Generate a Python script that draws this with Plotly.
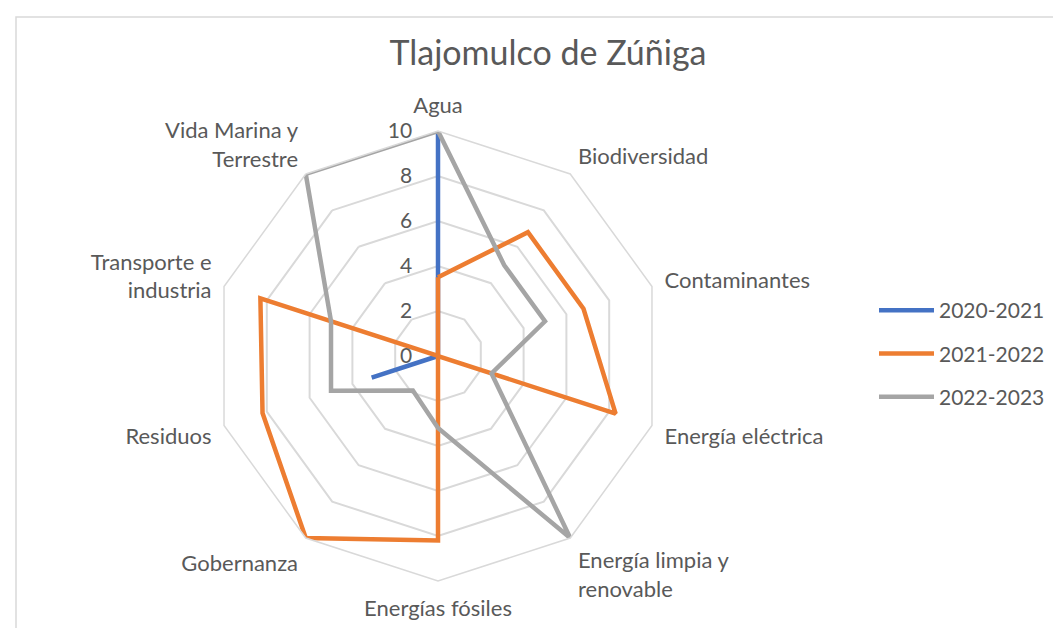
import plotly.graph_objs as go

categorias = ['Agua', 'Biodiversidad', 'Contaminantes', 'Energía eléctrica',
              'Energía limpia y<br>renovable', 'Energías fósiles', 'Gobernanza',
              'Residuos', 'Transporte e<br>industria', 'Vida Marina y<br>Terrestre']

v_2020_2021 = [10, 0, 0, 0, 0, 0, 0, 3.1, 0, 0]
v_2021_2022 = [3.5, 6.8, 6.8, 8.3, 0, 8.2, 10, 8.2, 8.3, 0]
v_2022_2023 = [10, 5, 5, 2.5, 10, 3.2, 1.9, 5, 5, 10]

series = [
    ('2020-2021', v_2020_2021, '#4472C4'),
    ('2021-2022', v_2021_2022, '#ED7D31'),
    ('2022-2023', v_2022_2023, '#A5A5A5'),
]

texto = '#595959'
rejilla = '#D9D9D9'
fuente = 'Lato'

traces = []
for nombre, valores, color in series:
    trace = go.Scatterpolar(
        r=valores + valores[:1],
        theta=categorias + categorias[:1],
        mode='lines',
        line=dict(color=color, width=4.5),
        name=nombre,
        legendgroup=nombre
    )
    traces.append(trace)

layout = go.Layout(
    width=1061,
    height=628,
    margin=dict(l=0, r=0, t=0, b=0),
    paper_bgcolor='white',
    font=dict(family=fuente, color=texto, size=21),
    title=dict(
        text='Tlajomulco de Zúñiga',
        x=540 / 1061,
        xanchor='center',
        y=1 - 45 / 628,
        yanchor='middle',
        font=dict(size=34, color=texto, family=fuente)
    ),
    showlegend=True,
    legend=dict(
        x=866 / 1061,
        xanchor='left',
        y=1 - 282 / 628,
        yanchor='top',
        font=dict(size=21, color=texto),
        tracegroupgap=13,
        itemwidth=55
    ),
    polar=dict(
        domain=dict(x=[205 / 1061, 655 / 1061], y=[1 - 573 / 628, 1 - 123 / 628]),
        gridshape='linear',
        bgcolor='white',
        radialaxis=dict(
            range=[0, 10],
            tickvals=[0, 2, 4, 6, 8, 10],
            angle=90,
            tickangle=90,
            side='counterclockwise',
            showline=False,
            ticks='outside',
            ticklen=18,
            tickcolor='rgba(0,0,0,0)',
            gridcolor=rejilla,
            gridwidth=1.5,
            tickfont=dict(size=21, color=texto)
        ),
        angularaxis=dict(
            rotation=90,
            direction='clockwise',
            showgrid=False,
            showline=True,
            linecolor=rejilla,
            linewidth=1.5,
            ticks='outside',
            ticklen=8,
            tickcolor='rgba(0,0,0,0)',
            tickfont=dict(size=22, color=texto)
        )
    ),
    shapes=[dict(
        type='rect', xref='paper', yref='paper',
        x0=8 / 1061, x1=1.05, y0=-0.05, y1=1 - 9 / 628,
        line=dict(color=rejilla, width=1.5)
    )]
)

fig = go.Figure(data=traces, layout=layout)
fig.write_html('out.html')
